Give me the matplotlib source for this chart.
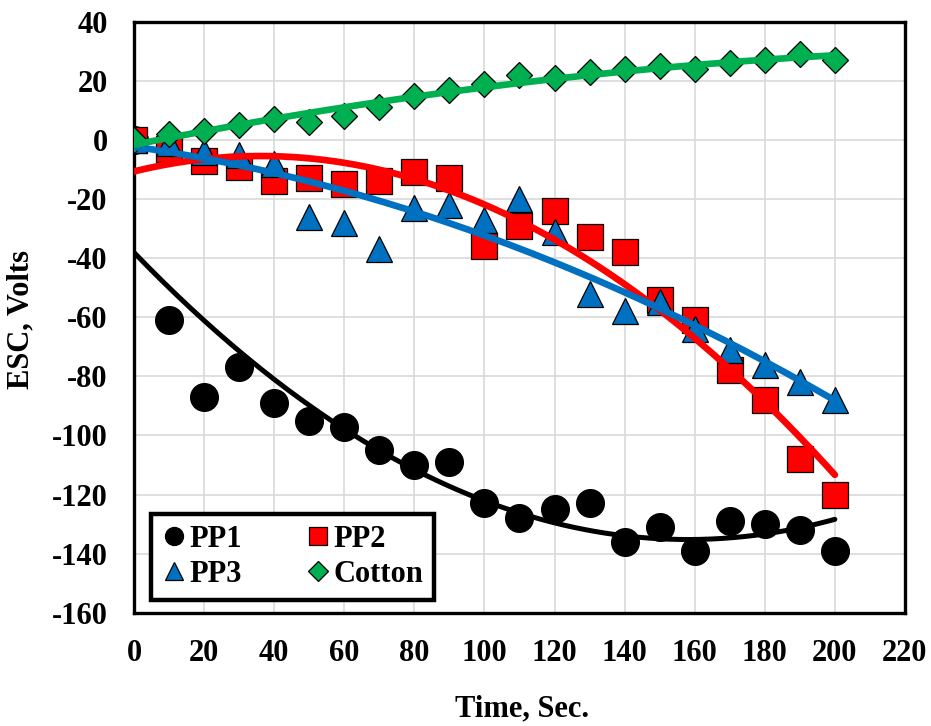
import matplotlib.pyplot as plt
import numpy as np

plt.rcParams['font.family'] = ['Liberation Serif', 'DejaVu Serif']
plt.rcParams['font.weight'] = 'bold'
plt.rcParams['axes.unicode_minus'] = False

# time (s) shared by every series
time_s = [0, 10, 20, 30, 40, 50, 60, 70, 80, 90, 100,
          110, 120, 130, 140, 150, 160, 170, 180, 190, 200]

# electrostatic charge (V)
esc_pp1 = [0, -61, -87, -77, -89, -95, -97, -105, -110, -109, -123,
           -128, -125, -123, -136, -131, -139, -129, -130, -132, -139]
esc_pp2 = [0, -3, -7, -9, -14, -13, -15, -14, -11, -13, -36,
           -29, -24, -33, -38, -54, -61, -78, -88, -108, -120]
esc_pp3 = [0, -1, -4, -5, -8, -26, -28, -37, -23, -22, -27,
           -20, -31, -52, -58, -55, -64, -71, -76, -82, -88]
esc_cotton = [0, 2, 3, 5, 7, 6, 8, 11, 15, 17, 19,
              22, 21, 23, 24, 25, 24, 26, 27, 29, 27]

names = ['PP1', 'PP2', 'PP3', 'Cotton']
colors = ['#000000', '#FF0000', '#0070C0', '#00B050']
markers = ['o', 's', '^', 'D']
msizes = [20, 19, 19, 13.5]

series = [esc_pp1, esc_pp2, esc_pp3, esc_cotton]

FS = 22

fig = plt.figure(figsize=(9.31, 7.26), dpi=100)
ax = fig.add_axes([0.144, 0.156, 0.828, 0.814])

x = np.array(time_s, dtype=float)
for y, name, c, m, ms in zip(series, names, colors, markers, msizes):
    ax.plot(x, y, linestyle='none', marker=m, markersize=ms,
            markerfacecolor=c, markeredgecolor='black',
            markeredgewidth=0.9, zorder=3)

# 2nd order polynomial trendlines (Excel style), drawn over markers
xs = np.linspace(0, 200, 200)
for y, c in zip(series, colors):
    coef = np.polyfit(x, np.array(y, dtype=float), 2)
    lw = 3.6 if c == '#000000' else 4.8
    ax.plot(xs, np.polyval(coef, xs), color=c, linewidth=lw,
            solid_capstyle='round', zorder=4)

ax.set_xlim(0, 220)
ax.set_ylim(-160, 40)
ax.set_xticks(np.arange(0, 221, 20))
ax.set_yticks(np.arange(-160, 41, 20))
ax.grid(True, color='#d9d9d9', linewidth=1.2, zorder=0)
ax.set_axisbelow(True)
ax.tick_params(length=0, labelsize=FS, pad=19)
for lab in ax.get_xticklabels() + ax.get_yticklabels():
    lab.set_fontweight('bold')
for sp in ax.spines.values():
    sp.set_linewidth(2.4)
    sp.set_color('black')

ax.set_xlabel('Time, Sec.', fontsize=FS, fontweight='bold')
ax.set_ylabel('ESC, Volts', fontsize=FS, fontweight='bold')
ax.xaxis.set_label_coords(0.503, -0.139)
ax.yaxis.set_label_coords(-0.128, 0.497)

# legend fills column-wise, so order gives rows PP1/PP2 and PP3/Cotton
order = [0, 2, 1, 3]
leg_handles = []
for i in order:
    m = markers[i]
    ms = 10 if m == 'D' else 13
    leg_handles.append(plt.Line2D([], [], linestyle='none', marker=m,
                                  markersize=ms, markerfacecolor=colors[i],
                                  markeredgecolor='black',
                                  markeredgewidth=0.9, label=names[i]))
leg = ax.legend(handles=leg_handles, loc='lower left',
                bbox_to_anchor=(0.022, 0.022), borderaxespad=0, ncol=2,
                prop={'weight': 'bold', 'size': FS},
                frameon=True, fancybox=False, handletextpad=0.1,
                handlelength=0.8, columnspacing=2.1, borderpad=0.35,
                labelspacing=0.2)
leg.get_frame().set_edgecolor('black')
leg.get_frame().set_linewidth(3.2)
leg.get_frame().set_alpha(1)
leg.set_zorder(5)

fig.savefig('out.png', dpi=100)
